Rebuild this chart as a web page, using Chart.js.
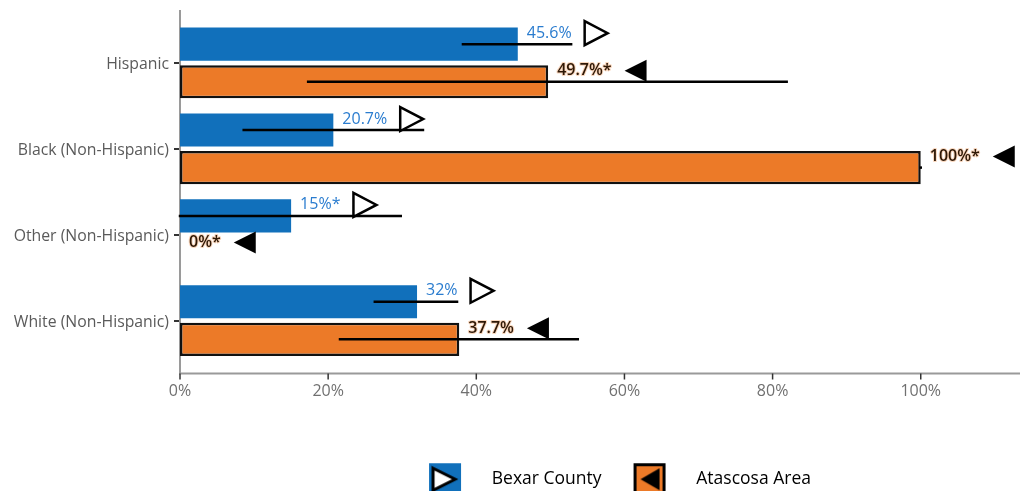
<!DOCTYPE html>
<html>
<head>
<meta charset="utf-8">
<script src="https://cdn.jsdelivr.net/npm/chart.js@4.4.1/dist/chart.umd.min.js"></script>
<style>
html, body { margin: 0; padding: 0; overflow: hidden; background: #fff; }
#wrap { position: relative; width: 1020px; height: 498px; }
</style>
</head>
<body>
<div id="wrap"><canvas id="raceChart"></canvas></div>
<script>
const categories = ['Hispanic', 'Black (Non-Hispanic)', 'Other (Non-Hispanic)', 'White (Non-Hispanic)'];

const bexarValues = [45.6, 20.7, 15, 32];
const bexarLow = [38.2, 8.6, 0, 26.3];
const bexarHigh = [52.8, 32.8, 29.8, 37.4];
const bexarLabels = ['45.6%', '20.7%', '15%*', '32%'];

const atascosaValues = [49.7, 100, 0, 37.7];
const atascosaLow = [17.3, 100, null, 21.6];
const atascosaHigh = [81.9, 100, null, 53.7];
const atascosaLabels = ['49.7%*', '100%*', '0%*', '37.7%'];

const xTicks = [0, 20, 40, 60, 80, 100];

const BLUE = '#1170bb';
const ORANGE = '#ec7a28';
const FONT = '"Open Sans", "DejaVu Sans", sans-serif';

function makeIcon(kind) {
	const c = document.createElement('canvas');
	c.width = 34;
	c.height = 34;
	const g = c.getContext('2d');
	if (kind === 'bexar') {
		g.fillStyle = BLUE;
		g.fillRect(1, 1, 32, 32);
		g.beginPath();
		g.moveTo(5, 6);
		g.lineTo(27, 17);
		g.lineTo(5, 28);
		g.closePath();
		g.fillStyle = '#fff';
		g.fill();
		g.lineWidth = 3;
		g.strokeStyle = '#000';
		g.stroke();
	} else {
		g.fillStyle = ORANGE;
		g.fillRect(1, 1, 32, 32);
		g.lineWidth = 3;
		g.strokeStyle = '#000';
		g.strokeRect(2.5, 2.5, 29, 29);
		g.beginPath();
		g.moveTo(8, 17);
		g.lineTo(27, 6);
		g.lineTo(27, 28);
		g.closePath();
		g.fillStyle = '#000';
		g.fill();
	}
	return c;
}

function triangle(ctx, cx, cy, dir) {
	ctx.save();
	ctx.beginPath();
	if (dir === 'right') {
		ctx.moveTo(cx - 11, cy - 12);
		ctx.lineTo(cx + 12, cy);
		ctx.lineTo(cx - 11, cy + 12);
		ctx.closePath();
		ctx.fillStyle = '#fff';
		ctx.fill();
		ctx.lineWidth = 2.5;
		ctx.strokeStyle = '#000';
		ctx.stroke();
	} else {
		ctx.moveTo(cx - 11, cy);
		ctx.lineTo(cx + 11, cy - 11);
		ctx.lineTo(cx + 11, cy + 11);
		ctx.closePath();
		ctx.fillStyle = '#000';
		ctx.fill();
	}
	ctx.restore();
}

const axisPlugin = {
	id: 'axisLines',
	afterLayout(chart) {
		// nudge the centred legend a little to the right, like the original
		chart.legend.left += 9;
		chart.legend.right += 9;
	},
	beforeDatasetsDraw(chart) {
		const {ctx, chartArea} = chart;
		const xs = chart.scales.x;
		const base = chartArea.bottom + 10;
		ctx.save();
		ctx.strokeStyle = '#9a9a9a';
		ctx.lineWidth = 2;
		ctx.beginPath();
		ctx.moveTo(chartArea.left, chartArea.top - 10);
		ctx.lineTo(chartArea.left, base);
		ctx.lineTo(chartArea.right, base);
		ctx.stroke();
		ctx.strokeStyle = '#333';
		ctx.lineWidth = 1.5;
		xTicks.forEach((v) => {
			const px = xs.getPixelForValue(v);
			ctx.beginPath();
			ctx.moveTo(px, base);
			ctx.lineTo(px, base + 6);
			ctx.stroke();
		});
		ctx.restore();
	}
};

const marksPlugin = {
	id: 'ciAndLabels',
	afterDatasetsDraw(chart) {
		const {ctx} = chart;
		const xs = chart.scales.x;
		const sets = [
			{low: bexarLow, high: bexarHigh, labels: bexarLabels, dir: 'right'},
			{low: atascosaLow, high: atascosaHigh, labels: atascosaLabels, dir: 'left'}
		];
		ctx.save();
		// confidence intervals
		sets.forEach((s, i) => {
			chart.getDatasetMeta(i).data.forEach((bar, j) => {
				if (s.low[j] === null) return;
				ctx.beginPath();
				ctx.lineWidth = 2.5;
				ctx.lineCap = 'square';
				ctx.strokeStyle = '#000';
				ctx.moveTo(xs.getPixelForValue(s.low[j]), bar.y);
				ctx.lineTo(xs.getPixelForValue(s.high[j]), bar.y);
				ctx.stroke();
			});
		});
		// value labels and markers
		sets.forEach((s, i) => {
			chart.getDatasetMeta(i).data.forEach((bar, j) => {
				const lx = bar.x + 9;
				const ly = bar.y - 11;
				ctx.textBaseline = 'middle';
				ctx.textAlign = 'left';
				if (i === 0) {
					ctx.font = '16px ' + FONT;
					ctx.fillStyle = '#2a7ccf';
					ctx.fillText(s.labels[j], lx, ly);
				} else {
					ctx.font = '600 16px ' + FONT;
					ctx.lineWidth = 2;
					ctx.lineJoin = 'round';
					ctx.strokeStyle = 'rgba(236,122,40,0.3)';
					ctx.strokeText(s.labels[j], lx, ly);
					ctx.fillStyle = '#2e1806';
					ctx.fillText(s.labels[j], lx, ly);
				}
				const w = ctx.measureText(s.labels[j]).width;
				triangle(ctx, lx + w + 24, ly, s.dir);
			});
		});
		ctx.restore();
	}
};

const bexarIcon = makeIcon('bexar');
const atascosaIcon = makeIcon('atascosa');

new Chart(document.getElementById('raceChart'), {
	type: 'bar',
	data: {
		labels: categories,
		datasets: [
			{
				label: 'Bexar County',
				data: bexarValues,
				backgroundColor: BLUE,
				borderWidth: 0,
				categoryPercentage: 0.875,
				barPercentage: 0.88
			},
			{
				label: 'Atascosa Area',
				data: atascosaValues,
				backgroundColor: ORANGE,
				borderColor: '#111',
				borderWidth: 2.5,
				borderSkipped: false,
				categoryPercentage: 0.875,
				barPercentage: 0.88
			}
		]
	},
	options: {
		indexAxis: 'y',
		responsive: true,
		maintainAspectRatio: false,
		animation: false,
		layout: {padding: {top: 20, left: 0, right: 0, bottom: 0}},
		scales: {
			x: {
				min: 0,
				max: 113.4,
				border: {display: false},
				grid: {display: false, drawTicks: false},
				ticks: {
					stepSize: 20,
					includeBounds: false,
					padding: 18,
					color: '#707070',
					font: {family: FONT, size: 16},
					callback: (v) => v + '%'
				},
				afterFit: (scale) => { scale.height = 97; }
			},
			y: {
				border: {display: false},
				grid: {display: true, drawOnChartArea: false, offset: false, tickLength: 6, color: '#333', lineWidth: 2},
				ticks: {padding: 5, labelOffset: 2, color: '#5a5a5a', font: {family: FONT, size: 15.8}},
				afterFit: (scale) => { scale.width = 180; }
			}
		},
		plugins: {
			tooltip: {enabled: false},
			legend: {
				position: 'bottom',
				fullSize: false,
				labels: {
					usePointStyle: true,
					pointStyleWidth: 76,
					padding: 10,
					color: '#333',
					font: {family: FONT, size: 17.5},
					generateLabels: () => [
						{text: 'Bexar County', pointStyle: bexarIcon, fillStyle: BLUE, strokeStyle: 'transparent', lineWidth: 0, hidden: false, datasetIndex: 0},
						{text: 'Atascosa Area', pointStyle: atascosaIcon, fillStyle: ORANGE, strokeStyle: 'transparent', lineWidth: 0, hidden: false, datasetIndex: 1}
					]
				}
			}
		}
	},
	plugins: [axisPlugin, marksPlugin]
});
</script>
</body>
</html>
